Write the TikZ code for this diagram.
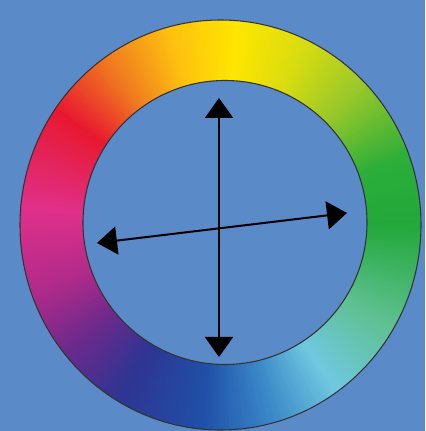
\documentclass[tikz,border=0pt]{standalone}
\usetikzlibrary{arrows.meta}
\definecolor{bgblue}{HTML}{5B8AC8}
\definecolor{hueA}{HTML}{22A83A}
\definecolor{hueB}{HTML}{2BAE3A}
\definecolor{hueC}{HTML}{9AC82A}
\definecolor{hueD}{HTML}{D8DC10}
\definecolor{hueE}{HTML}{FFE600}
\definecolor{hueF}{HTML}{FDC010}
\definecolor{hueG}{HTML}{F07820}
\definecolor{hueH}{HTML}{E81830}
\definecolor{hueI}{HTML}{E0308A}
\definecolor{hueJ}{HTML}{B02A8A}
\definecolor{hueK}{HTML}{6A2A8C}
\definecolor{hueL}{HTML}{2E3592}
\definecolor{hueM}{HTML}{2050A8}
\definecolor{hueN}{HTML}{3A88C8}
\definecolor{hueO}{HTML}{70C8E0}
\definecolor{hueP}{HTML}{5EC090}
\tikzset{
  ringline/.style={draw=black!80, line width=0.8pt},
  axisarrow/.style={line width=1.5pt,
    {Triangle[length=15pt,width=21pt]}-{Triangle[length=15pt,width=21pt]}}
}
\begin{document}
\begin{tikzpicture}[x=0.75pt, y=0.75pt, line join=round]
  % Background
  \fill[bgblue] (0,0) rectangle (425,431);
  \useasboundingbox (0,0) rectangle (425,431);

  % Centres
  \coordinate (Co) at (220.5,206);
  \coordinate (Ci) at (225,208.5);

  % Colour wheel
  \begin{scope}
    \clip (Co) ellipse (200.5 and 205);
    \foreach \a/\b/\ca/\cb in {0/20/hueA/hueB, 20/45/hueB/hueC, 45/65/hueC/hueD,
        65/85/hueD/hueE, 85/105/hueE/hueF, 105/125/hueF/hueG, 125/145/hueG/hueH,
        145/175/hueH/hueI, 175/200/hueI/hueJ, 200/220/hueJ/hueK, 220/240/hueK/hueL,
        240/265/hueL/hueM, 265/285/hueM/hueN, 285/305/hueN/hueO, 305/330/hueO/hueP,
        330/360/hueP/hueA}{
      \pgfmathtruncatemacro\n{\b-\a-1}
      \foreach \i in {0,...,\n}{
        \pgfmathtruncatemacro\p{100*\i/(\b-\a)}
        \fill[\cb!\p!\ca] (Co) -- ([shift={(Co)}]\a+\i-0.5:240)
          -- ([shift={(Co)}]\a+\i+1.5:240) -- cycle;
      }
    }
  \end{scope}
  \fill[bgblue] (Ci) circle (142);
  \draw[ringline] (Co) ellipse (200.5 and 205);
  \draw[ringline] (Ci) circle (142);

  % Axes
  \coordinate (top) at (219,333);
  \coordinate (bottom) at (219,74);
  \coordinate (left) at (97,188);
  \coordinate (right) at (347,218);
  \draw[axisarrow] (bottom) -- (top);
  \draw[axisarrow] (left) -- (right);
\end{tikzpicture}
\end{document}
